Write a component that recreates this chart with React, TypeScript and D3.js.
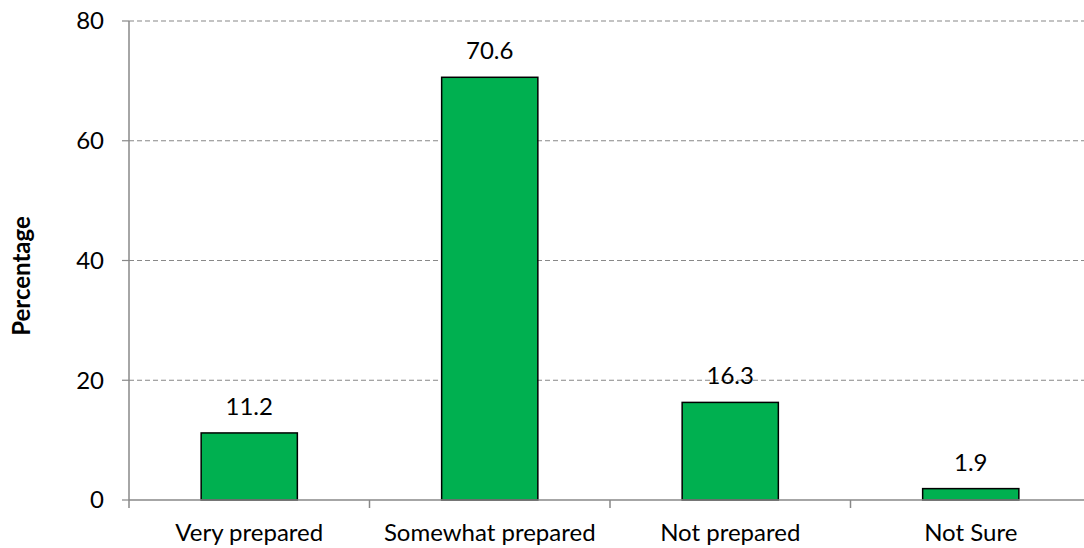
import React from "react";
import * as d3 from "d3";

const categories = ["Very prepared", "Somewhat prepared", "Not prepared", "Not Sure"];
const values = [11.2, 70.6, 16.3, 1.9];
const yTicks = [0, 20, 40, 60, 80];
const yLabel = "Percentage";

const W = 1084;
const H = 548;
const left = 129;
const right = 1091;
const top = 21;
const bottom = 500;
const FONT = "Lato, 'Open Sans', sans-serif";

export default function App() {
  const x = d3.scaleBand<string>().domain(categories).range([left, right]).paddingInner(0).paddingOuter(0);
  const y = d3.scaleLinear().domain([0, 80]).range([bottom, top]);
  const bw = x.bandwidth() * 0.4;
  const boundaries = d3.range(categories.length + 1).map((i) => left + i * x.bandwidth());

  return (
    <div style={{ position: "absolute", left: 0, top: 0 }}>
      <svg width={W} height={H} style={{ display: "block", background: "#fff" }}>
        {yTicks.filter((t) => t !== 0).map((t) => (
          <line key={"g" + t} x1={left} x2={right} y1={y(t)} y2={y(t)} stroke="#888" strokeWidth={1.2} strokeDasharray="5,3" />
        ))}
        {yTicks.map((t) => (
          <g key={"t" + t}>
            <line x1={left - 7} x2={left} y1={y(t)} y2={y(t)} stroke="#888" strokeWidth={1.2} />
            <text x={104} y={y(t)} dy="0.35em" textAnchor="end" fontFamily={FONT} fontSize={24} fill="#000">{t}</text>
          </g>
        ))}
        <line x1={left} x2={left} y1={top} y2={bottom} stroke="#888" strokeWidth={1.5} />
        {categories.map((c, i) => (
          <g key={c}>
            <rect x={x(c)! + (x.bandwidth() - bw) / 2} y={y(values[i])} width={bw} height={bottom - y(values[i])} fill="#00B050" stroke="#000" strokeWidth={1.5} />
            <text x={x(c)! + x.bandwidth() / 2} y={y(values[i]) - 18} textAnchor="middle" fontFamily={FONT} fontSize={24} fill="#000">{values[i]}</text>
            <text x={x(c)! + x.bandwidth() / 2} y={541} textAnchor="middle" fontFamily={FONT} fontSize={24} fill="#000">{c}</text>
          </g>
        ))}
        <line x1={left} x2={right} y1={bottom} y2={bottom} stroke="#888" strokeWidth={1.5} />
        {boundaries.map((b, i) => (
          <line key={"b" + i} x1={b} x2={b} y1={bottom} y2={bottom + 8} stroke="#888" strokeWidth={1.5} />
        ))}
        <text transform={`translate(30,276) rotate(-90)`} textAnchor="middle" fontFamily={FONT} fontSize={24} fontWeight="bold" fill="#000">{yLabel}</text>
      </svg>
    </div>
  );
}
